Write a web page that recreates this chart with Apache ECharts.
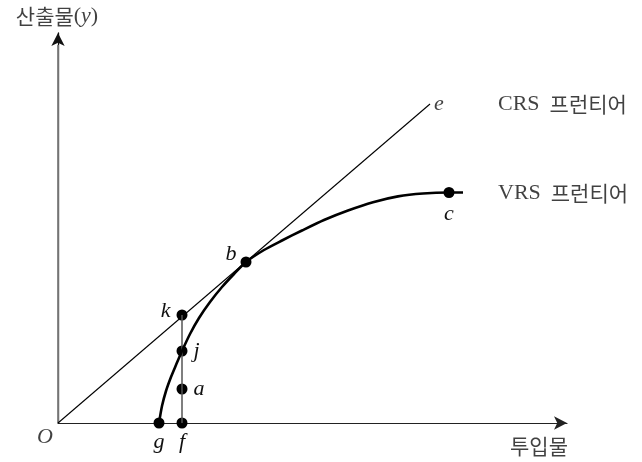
<!DOCTYPE html>
<html>
<head>
<meta charset="utf-8">
<script src="https://cdn.jsdelivr.net/npm/echarts@6/dist/echarts.min.js"></script>
<style>html,body{margin:0;padding:0;background:#fff}#c{width:642px;height:462px}</style>
</head>
<body>
<div id="c"></div>
<script>
// Data (x = input, y = output), in chart units
const crsLine = [[0, 0], [372, 319]];
const vrsCurve = [[101, 0], [104, 17], [108, 32], [113, 46], [118, 58], [124, 72], [132, 89], [141, 105], [152, 121], [164, 136], [176, 149], [188, 161], [206, 173], [224, 182.5], [244, 192.5], [266, 203], [290, 212.5], [315, 220.8], [340, 226.6], [365, 229.5], [391, 230.5], [405, 230.5]];
const segFK = [[124, 0], [124, 108]];
const yAxisOverlay = [[0, 0], [0, 378]];
const pointNames = ['g', 'f', 'a', 'j', 'k', 'b', 'c'];
const pointX = [101, 124, 124, 124, 124, 188, 391];
const pointY = [0, 0, 34, 72, 108, 161, 230.5];
const textLabels = ['O', 'e'];
const textX = [-13, 372];
const textY = [-14, 319];
const frontierNames = ['CRS', 'VRS'];
const frontierWord = '프런티어';
const frontierX = [440, 440];
const frontierY = [319, 230];
const xAxisName = '투입물';
const yAxisName = '산출물';

const serif = "'Liberation Serif','Times New Roman',serif";
const kfont = "'Noto Sans CJK KR',sans-serif";

const labelPos = {
  g: {position: 'bottom', distance: 3},
  f: {position: 'bottom', distance: 3},
  a: {position: 'right', distance: 6},
  j: {position: 'right', distance: 6},
  k: {position: 'left', distance: 6, offset: [0, -4]},
  b: {position: 'left', distance: 4, offset: [0, -8]},
  c: {position: 'bottom', distance: 5}
};

const chart = echarts.init(document.getElementById('c'));
chart.setOption({
  animation: false,
  backgroundColor: '#fff',
  grid: {left: 58, top: 33, width: 509, height: 390},
  xAxis: {
    type: 'value', min: 0, max: 509,
    axisLine: {show: true, symbol: ['none', 'arrow'], symbolSize: [10, 13], lineStyle: {color: '#222', width: 1.2}},
    axisTick: {show: false}, axisLabel: {show: false}, splitLine: {show: false}
  },
  yAxis: {
    type: 'value', min: 0, max: 390,
    axisLine: {show: true, symbol: ['none', 'arrow'], symbolSize: [10, 13], lineStyle: {color: '#111', width: 1.3}},
    axisTick: {show: false}, axisLabel: {show: false}, splitLine: {show: false}
  },
  series: [
    {
      type: 'line', data: yAxisOverlay, symbol: 'none', clip: false, silent: true,
      lineStyle: {color: '#808080', width: 1.8}
    },
    {
      type: 'line', data: crsLine, symbol: 'none', clip: false,
      lineStyle: {color: '#000', width: 1.1}
    },
    {
      type: 'line', data: segFK, symbol: 'none', clip: false,
      lineStyle: {color: '#555', width: 1.5}
    },
    {
      type: 'line', data: vrsCurve, symbol: 'none', smooth: 0.25, clip: false,
      lineStyle: {color: '#000', width: 2.6}
    },
    {
      type: 'scatter', clip: false, symbolSize: 11,
      itemStyle: {color: '#000', opacity: 1},
      data: pointNames.map((n, i) => ({
        value: [pointX[i], pointY[i]],
        label: Object.assign({
          show: true, formatter: n, color: '#111',
          fontFamily: serif, fontStyle: 'italic', fontSize: 22
        }, labelPos[n])
      }))
    },
    {
      type: 'scatter', clip: false, symbolSize: 0,
      data: textLabels.map((t, i) => ({
        value: [textX[i], textY[i]],
        label: {
          show: true, formatter: t, color: '#111',
          position: i === 0 ? 'inside' : 'right', distance: 4,
          fontFamily: serif, fontStyle: 'italic', fontSize: 22
        }
      }))
    },
    {
      type: 'scatter', clip: false, symbolSize: 0,
      data: frontierNames.map((t, i) => ({
        value: [frontierX[i], frontierY[i]],
        label: {
          show: true, position: 'right', distance: 0,
          formatter: '{a|' + t + '}{k|' + frontierWord + '}',
          rich: {
            a: {fontFamily: serif, fontSize: 22, color: '#111', padding: [0, 10, 0, 0]},
            k: {fontFamily: kfont, fontSize: 21, color: '#111'}
          }
        }
      }))
    },
    {
      type: 'scatter', clip: false, symbolSize: 0,
      data: [
        {value: [481, -23], label: {show: true, position: 'inside', formatter: xAxisName, color: '#111', fontFamily: kfont, fontSize: 21}},
        {value: [-1, 407], label: {show: true, position: 'inside', formatter: '{k|' + yAxisName + '}{a|(}{i|y}{a|)}', color: '#111',
          rich: {k: {fontFamily: kfont, fontSize: 21, color: '#111'}, a: {fontFamily: serif, fontSize: 22, color: '#111'}, i: {fontFamily: serif, fontStyle: 'italic', fontSize: 22, color: '#111'}}}}
      ]
    }
  ]
});
</script>
</body>
</html>
